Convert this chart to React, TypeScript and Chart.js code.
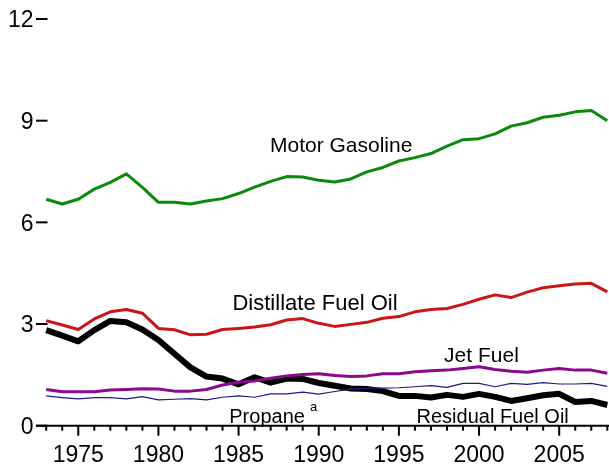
import React, { useEffect, useRef } from "react";
import { Chart, registerables } from "chart.js";

Chart.register(...registerables);

const years = [
  1973, 1974, 1975, 1976, 1977, 1978, 1979, 1980, 1981, 1982, 1983, 1984,
  1985, 1986, 1987, 1988, 1989, 1990, 1991, 1992, 1993, 1994, 1995, 1996,
  1997, 1998, 1999, 2000, 2001, 2002, 2003, 2004, 2005, 2006, 2007, 2008,
];

const motorGasoline = [
  6.68, 6.54, 6.68, 6.98, 7.18, 7.43, 7.03, 6.59, 6.59, 6.54, 6.63, 6.7,
  6.85, 7.04, 7.21, 7.35, 7.34, 7.24, 7.19, 7.28, 7.49, 7.62, 7.81, 7.91,
  8.03, 8.25, 8.44, 8.47, 8.61, 8.84, 8.94, 9.1, 9.16, 9.26, 9.3, 9.0,
];

const distillateFuelOil = [
  3.1, 2.97, 2.84, 3.15, 3.36, 3.43, 3.32, 2.87, 2.83, 2.68, 2.7, 2.84,
  2.87, 2.91, 2.98, 3.12, 3.16, 3.02, 2.93, 2.99, 3.05, 3.17, 3.22, 3.36,
  3.43, 3.46, 3.58, 3.73, 3.86, 3.78, 3.94, 4.07, 4.13, 4.18, 4.2, 3.95,
];

const residualFuelOil = [
  2.82, 2.66, 2.49, 2.82, 3.09, 3.05, 2.84, 2.53, 2.12, 1.72, 1.45, 1.39,
  1.22, 1.43, 1.27, 1.39, 1.38, 1.26, 1.18, 1.1, 1.08, 1.02, 0.88, 0.88,
  0.83, 0.91, 0.85, 0.94, 0.85, 0.73, 0.81, 0.9, 0.94, 0.7, 0.73, 0.61,
];

const jetFuel = [
  1.07, 1.0, 1.0, 1.0, 1.05, 1.07, 1.09, 1.08, 1.02, 1.02, 1.07, 1.2,
  1.28, 1.32, 1.4, 1.47, 1.51, 1.53, 1.48, 1.45, 1.47, 1.53, 1.53, 1.59,
  1.62, 1.64, 1.69, 1.74, 1.66, 1.61, 1.58, 1.64, 1.69, 1.64, 1.64, 1.55,
];

const propane = [
  0.88, 0.83, 0.79, 0.83, 0.83, 0.79, 0.86, 0.76, 0.78, 0.8, 0.76, 0.84,
  0.88, 0.84, 0.94, 0.94, 0.99, 0.93, 1.01, 1.08, 1.11, 1.11, 1.12, 1.15,
  1.18, 1.13, 1.25, 1.25, 1.15, 1.25, 1.22, 1.27, 1.23, 1.23, 1.25, 1.16,
];

const yTickValues = [0, 3, 6, 9, 12];
const yTickLabels = ["0", "3", "6", "9", "12"];
const xTickLabelYears = [1975, 1980, 1985, 1990, 1995, 2000, 2005];

// series labels anchored in data coordinates (year, value) at text baseline-left
const seriesLabels = [
  { text: "Motor Gasoline", year: 1986.96, value: 8.08, size: 21 },
  { text: "Distillate Fuel Oil", year: 1984.62, value: 3.41, size: 22 },
  { text: "Jet Fuel", year: 1997.82, value: 1.89, size: 21 },
  { text: "Propane", year: 1984.42, value: 0.08, size: 20, sup: "a" },
  { text: "Residual Fuel Oil", year: 1996.1, value: 0.08, size: 20 },
];

const FONT = '"Liberation Sans", Arial, Helvetica, sans-serif';

const series = [
  { label: "Motor Gasoline", data: motorGasoline, color: "#0a8a0a", width: 3 },
  { label: "Distillate Fuel Oil", data: distillateFuelOil, color: "#cc1515", width: 3 },
  { label: "Propane", data: propane, color: "#1c1c88", width: 1.2 },
  { label: "Jet Fuel", data: jetFuel, color: "#8a0a8f", width: 3 },
  { label: "Residual Fuel Oil", data: residualFuelOil, color: "#000000", width: 6 },
];

const axesPlugin = {
  id: "customAxes",
  beforeDatasetsDraw(chart: any) {
    const { ctx, scales } = chart;
    const xs = scales.x;
    const ys = scales.y;
    const y0 = ys.getPixelForValue(0);
    ctx.save();
    ctx.strokeStyle = "#000";
    ctx.lineWidth = 2;
    ctx.lineCap = "butt";
    // x axis line
    ctx.beginPath();
    ctx.moveTo(36, y0);
    ctx.lineTo(chart.width, y0);
    ctx.stroke();
    // x ticks
    years.forEach((yr) => {
      const px = xs.getPixelForValue(yr);
      const major = yr % 5 === 0;
      ctx.beginPath();
      ctx.moveTo(px, y0);
      ctx.lineTo(px, y0 + (major ? 10 : 5));
      ctx.stroke();
    });
    // y ticks
    yTickValues.forEach((v) => {
      const py = ys.getPixelForValue(v);
      ctx.beginPath();
      ctx.moveTo(36, py);
      ctx.lineTo(47.5, py);
      ctx.stroke();
    });
    // labels
    ctx.fillStyle = "#000";
    ctx.font = `23px ${FONT}`;
    ctx.textAlign = "right";
    ctx.textBaseline = "alphabetic";
    yTickValues.forEach((v, i) => {
      const py = ys.getPixelForValue(v);
      ctx.fillText(yTickLabels[i], 33.5, py + 8.3);
    });
    ctx.textAlign = "center";
    xTickLabelYears.forEach((yr) => {
      const px = xs.getPixelForValue(yr);
      ctx.fillText(String(yr), px, y0 + 36);
    });
    ctx.restore();
  },
  afterDatasetsDraw(chart: any) {
    const { ctx, scales } = chart;
    const xs = scales.x;
    const ys = scales.y;
    ctx.save();
    ctx.fillStyle = "#000";
    ctx.textAlign = "left";
    ctx.textBaseline = "alphabetic";
    seriesLabels.forEach((l) => {
      const px = xs.getPixelForValue(l.year);
      const py = ys.getPixelForValue(l.value);
      ctx.font = `${l.size}px ${FONT}`;
      ctx.fillText(l.text, px, py);
      if (l.sup) {
        const w = ctx.measureText(l.text).width;
        ctx.font = `13px ${FONT}`;
        ctx.fillText(l.sup, px + w + 5, py - 12);
      }
    });
    ctx.restore();
  },
};

export default function App() {
  const canvasRef = useRef<HTMLCanvasElement | null>(null);

  useEffect(() => {
    if (!canvasRef.current) return;
    const chart = new Chart(canvasRef.current, {
      type: "line",
      data: {
        datasets: series.map((s) => ({
          label: s.label,
          data: years.map((yr, i) => ({ x: yr, y: s.data[i] })),
          borderColor: s.color,
          backgroundColor: s.color,
          borderWidth: s.width,
          pointRadius: 0,
          tension: 0,
          fill: false,
          clip: false as any,
          borderJoinStyle: "round" as const,
        })),
      },
      options: {
        animation: false,
        responsive: false,
        devicePixelRatio: 1,
        layout: { padding: { left: 46.2, right: 1.7, top: 19, bottom: 42.3 } },
        plugins: { legend: { display: false }, tooltip: { enabled: false } },
        scales: {
          x: { type: "linear", min: 1973, max: 2008, display: false },
          y: { type: "linear", min: 0, max: 12, display: false },
        },
      },
      plugins: [axesPlugin],
    });
    return () => chart.destroy();
  }, []);

  return (
    <div style={{ position: "absolute", left: 0, top: 0, width: 609, height: 468, background: "#fff" }}>
      <canvas ref={canvasRef} width={609} height={468} style={{ display: "block" }} />
    </div>
  );
}
